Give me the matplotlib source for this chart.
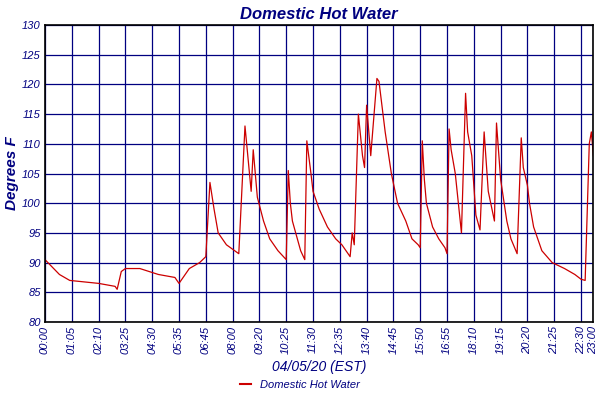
import matplotlib
matplotlib.use("Agg")
import matplotlib.pyplot as plt
from matplotlib.lines import Line2D

sample_idx = [0,7,12,26,34,35,37,39,46,55,63,65,70,75,78,80,82,84,88,92,94,97,100,101,103,106,109,113,117,118,119,120,124,126,127,129,130,133,137,141,144,148,149,150,152,154,155,156,158,161,162,165,168,171,175,178,181,182,183,184,185,188,191,194,195,196,197,199,202,204,205,207,209,211,213,215,218,219,221,224,226,229,231,232,234,235,237,241,246,252,257,260,262,264,265,266]
temps = [90.5,88,87,86.5,86,85.5,88.5,89,89,88,87.5,86.5,89,90,91,103.5,99,95,93,92,91.5,113,102,109,101,97,94,92,90.5,105.5,100,97,92,90.5,110.5,105,102,99,96,94,93,91,95,93,115,108,106,116.5,108,121,120.5,112,105,100,97,94,93,92.5,110.5,104,100,96,94,92.5,91.5,112.5,109,105,95,118.5,112,108,98,95.5,112,102,97,113.5,104,97,94,91.5,111,106,103,100,96,92,90,89,88,87.2,87,110,112,108]
tick_idx = [0,13,26,39,52,65,78,91,104,117,130,143,156,169,182,195,208,221,234,247,260,266]
tick_labels = ["00:00","01:05","02:10","03:25","04:30","05:35","06:45","08:00","09:20","10:25","11:30","12:35","13:40","14:45","15:50","16:55","18:10","19:15","20:20","21:25","22:30","23:00"]

navy = "#000080"
plt.rcParams["font.family"] = "Liberation Sans"
fig = plt.figure(figsize=(6, 4), dpi=100)
ax = fig.add_axes([0.075, 0.195, 0.914, 0.7425])
ax.plot(sample_idx, temps, color="#cc0000", lw=0.9)
ax.set_xlim(0, 266)
ax.set_ylim(80, 130)
ax.set_yticks(range(80, 131, 5))
ax.set_xticks(tick_idx)
ax.set_xticklabels(tick_labels, rotation=90, style="italic", color=navy, fontsize=8)
for lab in ax.get_yticklabels():
    lab.set_style("italic"); lab.set_color(navy); lab.set_fontsize(8)
ax.grid(True, color=navy, lw=0.9)
ax.tick_params(length=0, pad=3)
for s in ax.spines.values():
    s.set_color("black"); s.set_linewidth(1.2)
ax.set_title("Domestic Hot Water", color=navy, style="italic", fontweight="bold", fontsize=12, pad=4)
ax.set_ylabel("Degrees F", color=navy, style="italic", fontweight="bold", fontsize=11, labelpad=2)
ax.set_xlabel("04/05/20 (EST)", color=navy, style="italic", fontsize=10, labelpad=4)
fig.legend(handles=[Line2D([], [], color="#cc0000", lw=1.5)], labels=["Domestic Hot Water"],
           loc="lower center", bbox_to_anchor=(0.5, 0.0), frameon=False, handlelength=1,
           prop={"style": "italic", "size": 8}, labelcolor=navy)
fig.savefig("out.png", dpi=100)
